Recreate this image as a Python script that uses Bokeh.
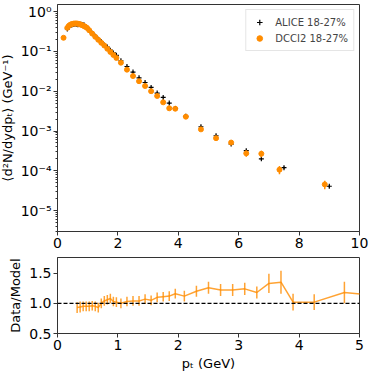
import numpy as np
from bokeh.plotting import figure
from bokeh.models import (ColumnDataSource, Span, Legend, LegendItem, FixedTicker,
                          CustomJSTickFormatter, NumeralTickFormatter, Range1d)
from bokeh.layouts import column
from bokeh.embed import file_html
from bokeh.resources import INLINE

# ---------------- data ----------------
alice_pt = [0.325, 0.375, 0.425, 0.475, 0.525, 0.575, 0.625, 0.675, 0.725, 0.775,
            0.825, 0.875, 0.925, 0.975, 1.05, 1.15, 1.25, 1.35, 1.45, 1.55,
            1.65, 1.75, 1.85, 1.95, 2.1, 2.3, 2.5, 2.7, 2.9, 3.1,
            3.3, 3.5, 3.7, 3.9, 4.25, 4.75, 5.25, 5.75, 6.25, 6.75,
            7.5, 9.0]
alice_y = [0.366, 0.411, 0.445, 0.460, 0.475, 0.481, 0.481, 0.465, 0.479, 0.482,
           0.475, 0.462, 0.420, 0.397, 0.339, 0.285, 0.239, 0.201, 0.175, 0.144,
           0.128, 0.107, 0.0911, 0.0793, 0.0581, 0.0416, 0.0302, 0.0217, 0.0165, 0.0124,
           0.00896, 0.00698, 0.00502, 0.00370, 0.00234, 0.00128, 0.00076, 0.00047, 0.00032, 0.00020,
           0.00012, 0.000041]
alice_err = [0.020, 0.022, 0.024, 0.025, 0.025, 0.026, 0.026, 0.025, 0.025, 0.025,
             0.025, 0.024, 0.022, 0.021, 0.018, 0.015, 0.013, 0.011, 0.009, 0.008,
             0.007, 0.006, 0.005, 0.0044, 0.0032, 0.0023, 0.0017, 0.0012, 0.0009, 0.0007,
             0.0005, 0.0004, 0.0003, 0.00022, 0.00014, 0.00008, 0.00005, 0.00003, 0.00002, 0.000013,
             0.000008, 0.000003]

model_pt = [0.2, 0.325, 0.375, 0.425, 0.475, 0.525, 0.575, 0.625, 0.675, 0.725, 0.775,
            0.825, 0.875, 0.925, 0.975, 1.05, 1.15, 1.25, 1.35, 1.45, 1.55,
            1.65, 1.75, 1.85, 1.95, 2.1, 2.3, 2.5, 2.7, 2.9, 3.1,
            3.3, 3.5, 3.7, 3.9, 4.25, 4.75, 5.25, 5.75, 6.25, 6.75,
            7.35, 8.85]
model_y = [0.219, 0.389, 0.437, 0.468, 0.484, 0.495, 0.501, 0.501, 0.495, 0.484, 0.468,
           0.452, 0.432, 0.412, 0.389, 0.339, 0.279, 0.232, 0.195, 0.164, 0.140,
           0.116, 0.0966, 0.0813, 0.0684, 0.0519, 0.0347, 0.0240, 0.0178, 0.0135, 0.0100,
           0.00759, 0.00525, 0.00372, 0.00363, 0.00229, 0.00110, 0.000661, 0.000513, 0.000275, 0.000269,
           0.000107, 0.0000457]
model_err = [0.004, 0.006, 0.006, 0.006, 0.006, 0.006, 0.006, 0.006, 0.006, 0.006, 0.006,
             0.006, 0.006, 0.006, 0.006, 0.005, 0.005, 0.004, 0.004, 0.003, 0.003,
             0.003, 0.0025, 0.0022, 0.0019, 0.0016, 0.0012, 0.0009, 0.0008, 0.0006, 0.0005,
             0.0004, 0.0004, 0.0003, 0.0003, 0.00012, 0.00008, 0.00006, 0.00006, 0.00005, 0.00005,
             0.000025, 0.000011]

ratio_pt = [0.325, 0.375, 0.425, 0.475, 0.525, 0.575, 0.625, 0.675, 0.725, 0.775,
            0.825, 0.875, 0.925, 0.975, 1.05, 1.15, 1.25, 1.35, 1.45, 1.55,
            1.65, 1.75, 1.85, 1.95, 2.1, 2.3, 2.5, 2.7, 2.9, 3.1,
            3.3, 3.5, 3.7, 3.9, 4.25, 4.75, 5.25]
ratio = [0.93, 0.94, 0.95, 0.95, 0.95, 0.96, 0.95, 0.93, 1.00, 1.04,
         1.06, 1.08, 1.03, 1.02, 1.00, 1.03, 1.04, 1.04, 1.07, 1.05,
         1.10, 1.11, 1.12, 1.16, 1.12, 1.20, 1.26, 1.22, 1.22, 1.24,
         1.18, 1.33, 1.35, 1.02, 1.02, 1.18, 1.13]
ratio_err = [0.09, 0.09, 0.08, 0.08, 0.08, 0.08, 0.08, 0.08, 0.08, 0.08,
             0.08, 0.08, 0.08, 0.08, 0.08, 0.08, 0.08, 0.08, 0.08, 0.08,
             0.08, 0.08, 0.08, 0.08, 0.09, 0.09, 0.10, 0.10, 0.10, 0.10,
             0.10, 0.16, 0.19, 0.14, 0.13, 0.18, 0.20]

y_ticks = [1e-5, 1e-4, 1e-3, 1e-2, 1e-1, 1e0]
x_ticks_top = [0, 2, 4, 6, 8, 10]
x_ticks_bot = [0, 1, 2, 3, 4, 5]
y_ticks_bot = [0.5, 1.0, 1.5]

ORANGE = "#ff8c00"
FONT = "DejaVu Sans"

# ---------------- sources ----------------
a_src = ColumnDataSource(dict(x=alice_pt, y=alice_y,
                              lo=np.array(alice_y) - np.array(alice_err),
                              hi=np.array(alice_y) + np.array(alice_err)))
m_src = ColumnDataSource(dict(x=model_pt, y=model_y,
                              lo=np.array(model_y) - np.array(model_err),
                              hi=np.array(model_y) + np.array(model_err)))
r_src = ColumnDataSource(dict(x=ratio_pt, y=ratio,
                              lo=np.array(ratio) - np.array(ratio_err),
                              hi=np.array(ratio) + np.array(ratio_err)))


def style(p):
    p.xgrid.grid_line_color = None
    p.ygrid.grid_line_color = None
    p.outline_line_color = "#333333"
    p.outline_line_width = 1
    p.background_fill_color = "white"
    p.border_fill_color = "white"
    for ax in (p.xaxis[0], p.yaxis[0]):
        ax.axis_line_color = "#333333"
        ax.major_tick_line_color = "#333333"
        ax.minor_tick_line_color = "#333333"
        ax.major_tick_out = 4
        ax.major_tick_in = 0
        ax.minor_tick_out = 2
        ax.minor_tick_in = 0
        ax.major_label_text_font = FONT
        ax.major_label_text_font_size = "14px"
        ax.major_label_text_color = "black"
        ax.major_label_standoff = 2
        ax.axis_label_text_font = FONT
        ax.axis_label_text_font_size = "13px"
        ax.axis_label_text_font_style = "normal"
        ax.axis_label_text_color = "black"
        ax.axis_label_standoff = 3


# ---------------- top panel ----------------
p1 = figure(frame_width=302, frame_height=227, y_axis_type="log",
            x_range=Range1d(0, 10), y_range=Range1d(3e-6, 1.5),
            output_backend="svg", toolbar_location=None,
            min_border_left=54, min_border_right=12, min_border_top=4, min_border_bottom=24)
style(p1)
p1.xaxis.ticker = FixedTicker(ticks=x_ticks_top)
p1.xaxis.minor_tick_out = 0
p1.yaxis.formatter = CustomJSTickFormatter(code="""
const sup = {"-":"\\u207b","0":"\\u2070","1":"\\u00b9","2":"\\u00b2","3":"\\u00b3",
             "4":"\\u2074","5":"\\u2075","6":"\\u2076","7":"\\u2077","8":"\\u2078","9":"\\u2079"};
const e = Math.round(Math.log10(tick));
return "10" + String(e).split("").map(c => sup[c]).join("");
""")
p1.yaxis.axis_label = "\u27e8d\u00b2N/dydp\u209c\u27e9 (GeV\u207b\u00b9)"

p1.segment(x0="x", y0="lo", x1="x", y1="hi", source=a_src, line_color="black", line_width=1)
ra = p1.scatter("x", "y", source=a_src, marker="cross", size=5, line_color="black", line_width=1.2)
p1.segment(x0="x", y0="lo", x1="x", y1="hi", source=m_src, line_color=ORANGE, line_width=1.5)
rm = p1.scatter("x", "y", source=m_src, marker="circle", size=5, fill_color=ORANGE, line_color=ORANGE)

legend = Legend(items=[LegendItem(label="ALICE 18-27%", renderers=[ra]),
                       LegendItem(label="DCCI2 18-27%", renderers=[rm])],
                location="top_right", margin=5, padding=5, spacing=2,
                glyph_width=16, glyph_height=14, label_height=14, label_standoff=8,
                label_text_font=FONT, label_text_font_size="10px",
                border_line_color="#cccccc", border_line_width=1,
                background_fill_alpha=0.8)
p1.add_layout(legend, "center")

# ---------------- bottom panel ----------------
p2 = figure(frame_width=302, frame_height=76,
            x_range=Range1d(0, 5), y_range=Range1d(0.5, 1.76),
            output_backend="svg", toolbar_location=None,
            min_border_left=54, min_border_right=12, min_border_top=2, min_border_bottom=36)
style(p2)
p2.xaxis.ticker = FixedTicker(ticks=x_ticks_bot)
p2.yaxis.ticker = FixedTicker(ticks=y_ticks_bot)
p2.yaxis.formatter = NumeralTickFormatter(format="0.0")
p2.xaxis.minor_tick_out = 0
p2.yaxis.minor_tick_out = 0
p2.xaxis.axis_label = "p\u209c (GeV)"
p2.yaxis.axis_label = "Data/Model"

p2.add_layout(Span(location=1.0, dimension="width", line_color="black",
                   line_dash="4 2", line_width=1.2))
p2.line("x", "y", source=r_src, line_color=ORANGE, line_alpha=0.8, line_width=1.5)
p2.segment(x0="x", y0="lo", x1="x", y1="hi", source=r_src,
           line_color=ORANGE, line_alpha=0.8, line_width=1.5)

layout = column(p1, p2, margin=(0, 0, 0, -4), spacing=0)

open("out.html", "w").write(file_html(layout, INLINE))
